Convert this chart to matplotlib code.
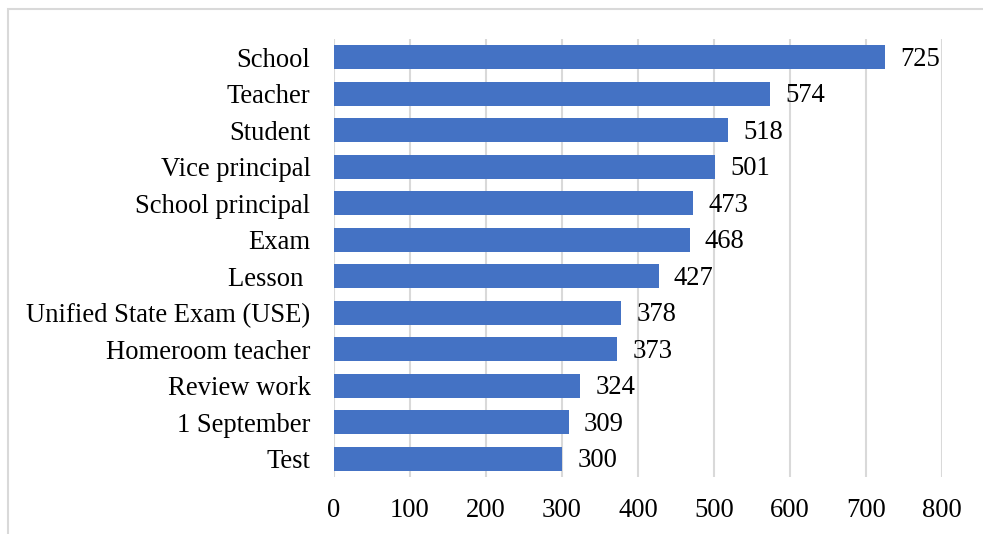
import matplotlib
matplotlib.use("Agg")
import matplotlib.pyplot as plt
from matplotlib.patches import Rectangle

categories = ["School", "Teacher", "Student", "Vice principal", "School principal", "Exam",
              "Lesson ", "Unified State Exam (USE)", "Homeroom teacher", "Review work",
              "1 September", "Test"]
values = [725, 574, 518, 501, 473, 468, 427, 378, 373, 324, 309, 300]
xticks = [0, 100, 200, 300, 400, 500, 600, 700, 800]

plt.rcParams['font.family'] = ['Liberation Serif', 'DejaVu Serif']

fig = plt.figure(figsize=(9.83, 5.34), dpi=100)
ax = fig.add_axes([334/983, 1 - 477/534, (942-334)/983, (477-39)/534])

y = list(range(len(categories)))
ax.barh(y, values, height=0.66, color="#4472C4", zorder=3)
ax.set_ylim(len(categories) - 0.5, -0.5)
ax.set_xlim(0, 800)
ax.set_xticks(xticks)
ax.set_xticklabels([str(t) for t in xticks])
ax.set_yticks(y)
ax.set_yticklabels(categories)
ax.tick_params(axis='both', length=0, labelsize=19.2, colors='black')
ax.tick_params(axis='y', pad=17)
ax.tick_params(axis='x', pad=15)
for s in ax.spines.values():
    s.set_visible(False)
ax.grid(axis='x', color='#d9d9d9', linewidth=1.5, zorder=0)
ax.set_axisbelow(True)

for yi, v in zip(y, values):
    ax.annotate(str(v), xy=(v, yi), xytext=(11, -1.5), textcoords='offset points',
                va='center', ha='left', fontsize=19.2)

fig.patches.append(Rectangle((8/983, -0.1), 1.2, 1 - 9/534 + 0.1, transform=fig.transFigure,
                             fill=False, edgecolor='#d9d9d9', linewidth=1.5))

fig.savefig("out.png", dpi=100)
